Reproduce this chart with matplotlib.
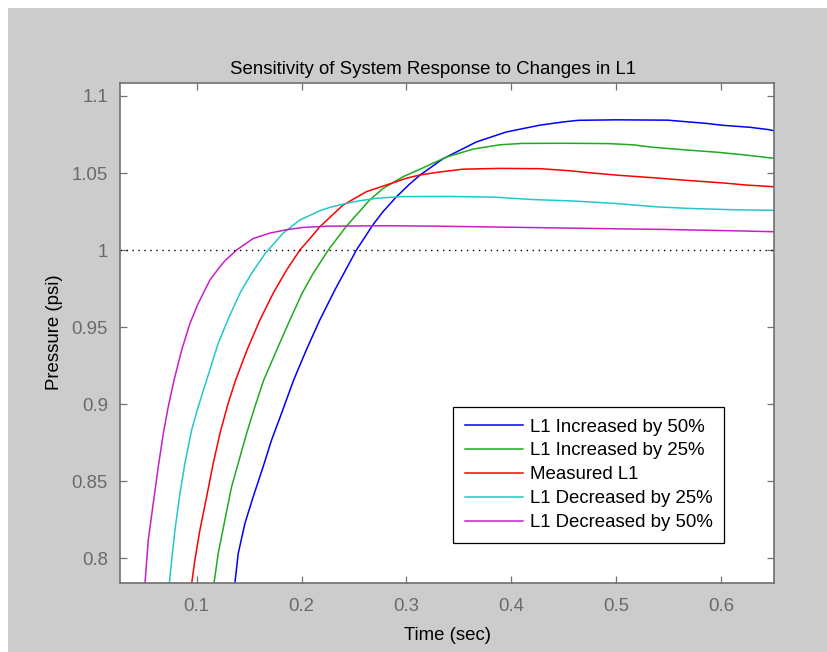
import matplotlib
matplotlib.use("Agg")
import matplotlib.pyplot as plt
from matplotlib.patches import Rectangle
from matplotlib.ticker import FixedLocator, FuncFormatter

plt.rcParams['font.family'] = ['Liberation Sans', 'DejaVu Sans']

# Pressure response curves (time in seconds, pressure in psi)
t_inc50 = [0.1364, 0.1396, 0.146, 0.1539, 0.1634, 0.1714, 0.1809, 0.1925, 0.2045,
           0.2174, 0.2317, 0.2523, 0.2682, 0.2778, 0.2904, 0.303, 0.3127, 0.3348,
           0.3665, 0.3951, 0.4269, 0.449, 0.464, 0.5, 0.549, 0.57, 0.586, 0.601,
           0.627, 0.645, 0.65]
p_inc50 = [0.7835, 0.803, 0.8226, 0.8399, 0.8594, 0.8767, 0.894, 0.9157, 0.9351,
           0.9546, 0.974, 1.0, 1.0165, 1.025, 1.0345, 1.0428, 1.0485, 1.0592,
           1.0701, 1.0766, 1.081, 1.0831, 1.0842, 1.0845, 1.0843, 1.0831, 1.0822,
           1.081, 1.0797, 1.0782, 1.0775]

t_inc25 = [0.1165, 0.1205, 0.1269, 0.1333, 0.1396, 0.1476, 0.1555, 0.164, 0.1777,
           0.1889, 0.2005, 0.2111, 0.2255, 0.2428, 0.265, 0.2778, 0.2968,
           0.3127, 0.338, 0.3634, 0.389, 0.41, 0.45, 0.492, 0.516, 0.535, 0.566,
           0.596, 0.623, 0.65]
p_inc25 = [0.7835, 0.803, 0.8248, 0.8464, 0.8616, 0.881, 0.8983, 0.9157, 0.9373,
           0.9546, 0.9719, 0.9849, 1.0, 1.0155, 1.0325, 1.04, 1.0476,
           1.0524, 1.0603, 1.0655, 1.0683, 1.0692, 1.0693, 1.0691, 1.0683, 1.0667,
           1.065, 1.0635, 1.0617, 1.0596]

t_meas = [0.0952, 0.0983, 0.1031, 0.1095, 0.1158, 0.1222, 0.13, 0.1372, 0.148,
          0.1603, 0.1729, 0.1857, 0.1984, 0.2095, 0.2174, 0.2396, 0.2619, 0.2809,
          0.2999, 0.3127, 0.33, 0.354, 0.39, 0.428, 0.455, 0.477, 0.503, 0.534,
          0.568, 0.603, 0.624, 0.65]
p_meas = [0.7835, 0.7988, 0.8183, 0.8399, 0.8616, 0.881, 0.9005, 0.9157, 0.9351,
          0.9546, 0.9719, 0.987, 1.0, 1.0087, 1.0151, 1.0292, 1.0379, 1.0422,
          1.0466, 1.0487, 1.0505, 1.0525, 1.053, 1.0528, 1.0515, 1.05, 1.0485,
          1.047, 1.0452, 1.0435, 1.0422, 1.0411]

t_dec25 = [0.0739, 0.0762, 0.0793, 0.0841, 0.0888, 0.0952, 0.1015, 0.1095, 0.1205,
           0.131, 0.142, 0.1524, 0.165, 0.1825, 0.1984, 0.2174, 0.2269, 0.2491,
           0.2714, 0.295, 0.34, 0.385, 0.42, 0.46, 0.5, 0.54, 0.57, 0.61, 0.65]
p_dec25 = [0.7835, 0.7988, 0.8183, 0.8422, 0.8616, 0.8832, 0.8983, 0.9157, 0.9394,
           0.9567, 0.973, 0.9849, 0.9975, 1.011, 1.0195, 1.0255, 1.0277, 1.0313,
           1.0336, 1.0347, 1.0348, 1.0343, 1.0328, 1.0318, 1.0302, 1.028, 1.027,
           1.0262, 1.0258]

t_dec50 = [0.0507, 0.0539, 0.0586, 0.0634, 0.0682, 0.0729, 0.0785, 0.0857, 0.0936,
           0.1015, 0.1126, 0.1222, 0.1269, 0.138, 0.1539, 0.1698, 0.1857, 0.2015,
           0.225, 0.28, 0.33, 0.37, 0.42, 0.46, 0.5, 0.545, 0.59, 0.62, 0.65]
p_dec50 = [0.7835, 0.812, 0.8356, 0.8594, 0.881, 0.8983, 0.9157, 0.9351, 0.9524,
           0.9654, 0.9805, 0.9892, 0.993, 1.0, 1.0075, 1.011, 1.0132, 1.0147,
           1.0155, 1.0158, 1.0155, 1.0151, 1.0146, 1.0142, 1.0138, 1.0134, 1.0128,
           1.0124, 1.0119]

labels = ['L1 Increased by 50%', 'L1 Increased by 25%', 'Measured L1',
          'L1 Decreased by 25%', 'L1 Decreased by 50%']
colors = ['#0000ff', '#1faa1f', '#ff0000', '#22c8c8', '#c81ec8']
series = [(t_inc50, p_inc50), (t_inc25, p_inc25), (t_meas, p_meas),
          (t_dec25, p_dec25), (t_dec50, p_dec50)]

x_ticks = [0.1, 0.2, 0.3, 0.4, 0.5, 0.6]
y_ticks = [0.8, 0.85, 0.9, 0.95, 1.0, 1.05, 1.1]
reference_level = 1.0

W, H = 827, 652
fig = plt.figure(figsize=(W / 100, H / 100), dpi=100, facecolor='white')
fig.patches.append(Rectangle((8 / W, 0), 1 - 8 / W, 1 - 8 / H,
                             transform=fig.transFigure, facecolor='#cccccc',
                             edgecolor='none', zorder=-10))

ax = fig.add_axes([120.3 / W, 1 - 582.5 / H, (774 - 120.3) / W, (582.5 - 82.7) / H])
ax.set_facecolor('white')

for (t, p), c, lab in zip(series, colors, labels):
    ax.plot(t, p, color=c, lw=1.1, label=lab)

ax.axhline(reference_level, color='black', lw=1.0, linestyle=(0, (1, 3.3)))

ax.set_xlim(0.0272, 0.6505)
ax.set_ylim(0.7843, 1.1086)
ax.xaxis.set_major_locator(FixedLocator(x_ticks))
ax.yaxis.set_major_locator(FixedLocator(y_ticks))
fmt = FuncFormatter(lambda v, pos: f'{v:g}')
ax.xaxis.set_major_formatter(fmt)
ax.yaxis.set_major_formatter(fmt)

fs = 13.4
ax.tick_params(direction='in', length=5, width=0.9, color='#707070',
               labelcolor='#6a6a6a', labelsize=fs, top=True, right=True)
ax.tick_params(axis='y', pad=9)
ax.tick_params(axis='x', pad=11)
for s in ax.spines.values():
    s.set_color('#707070')
    s.set_linewidth(1.2)

ax.set_title('Sensitivity of System Response to Changes in L1', fontsize=fs,
             color='black', x=0.479, pad=6)
ax.set_xlabel('Time (sec)', fontsize=fs, color='black', labelpad=9)
ax.set_ylabel('Pressure (psi)', fontsize=fs, color='black', labelpad=6)

leg = ax.legend(loc='lower left', bbox_to_anchor=(0.5094, 0.0796),
                borderaxespad=0, fontsize=fs, fancybox=False, framealpha=1,
                edgecolor='black', handlelength=3.1, handletextpad=0.4,
                labelspacing=0.37, borderpad=0.62)
leg.get_frame().set_linewidth(0.9)

fig.savefig('out.png', dpi=100, facecolor=fig.get_facecolor())
